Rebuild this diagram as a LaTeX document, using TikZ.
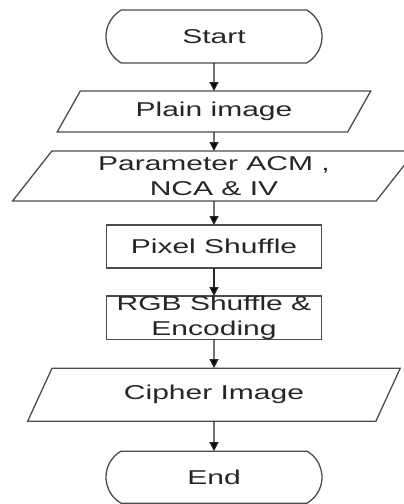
\documentclass[tikz,border=0pt]{standalone}
\usepackage{fontspec}
\newfontfamily\chartfont[FakeStretch=1.5]{Liberation Sans}
\usetikzlibrary{shapes.geometric, shapes.misc, positioning, arrows.meta}
\tikzset{->, >={Triangle[length=9pt, width=9pt]},
  base/.style={draw=black!70, line width=1.3pt, outer sep=0pt, inner sep=0pt, align=center,
    text=black!85, font=\chartfont\fontsize{20pt}{24.5pt}\selectfont},
  terminal/.style={base, rounded rectangle, rounded rectangle arc length=120,
    minimum width=216pt, minimum height=53pt},
  inout/.style={base, trapezium, trapezium left angle=54, trapezium right angle=126,
    trapezium stretches=true},
  process/.style={base, rectangle, minimum width=215pt},
  flow/.style={draw=black!85, line width=1.3pt}}

\begin{document}
\begin{tikzpicture}[x=1pt, y=1pt]
    \useasboundingbox (0,0) rectangle (404,-504);
    \node[terminal] (start) at (214,-36.5) {Start};
    \node[inout, below=28pt of start, minimum width=314pt, minimum height=41pt] (plain) {Plain image};
    \node[inout, below=19pt of plain, minimum width=404pt, minimum height=50pt] (param) {Parameter ACM ,\\NCA \& IV};
    \node[process, below=24pt of param, minimum height=43pt] (pixel) {Pixel Shuffle};
    \node[process, below=28pt of pixel, minimum height=42pt] (rgb) {RGB Shuffle \&\\Encoding};
    \node[inout, below=29pt of rgb, minimum width=373pt, minimum height=53pt] (cipher) {Cipher Image};
    \node[terminal, below=30pt of cipher, minimum height=52pt] (end) {End};
    \draw[flow] (start) edge (plain)
          (plain) edge (param)
          (param) edge (pixel)
          (pixel) edge (rgb)
          (rgb) edge (cipher)
          (cipher) edge (end);
\end{tikzpicture}
\end{document}
